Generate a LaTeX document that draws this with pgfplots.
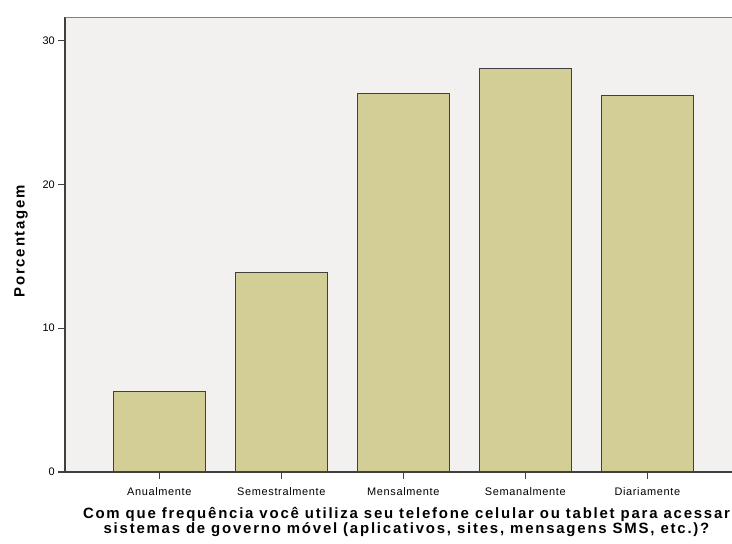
\documentclass[border=0pt]{standalone}
\usepackage{fontspec}
\setmainfont{Liberation Sans}
\newfontfamily\boldwide[LetterSpace=12]{Liberation Sans}
\newfontfamily\tickwide[LetterSpace=6]{Liberation Sans}
\usepackage{pgfplots}
\pgfplotsset{compat=1.18}
\definecolor{barfill}{RGB}{211,205,150}
\definecolor{plotbg}{RGB}{242,241,239}
\definecolor{axisdark}{RGB}{64,64,64}
\begin{document}
\begin{tikzpicture}[x=1bp,y=1bp]
\useasboundingbox (-65bp,-72bp) rectangle (667bp,472bp);
\begin{axis}[
    at={(0,0)}, anchor=south west,
    scale only axis,
    width=667bp, height=454.5bp,
    xmin=-0.773, xmax=4.694,
    ymin=0, ymax=31.6,
    axis x line=bottom, axis y line=left,
    axis line style={axisdark, line width=1.2bp, -},
    axis background/.style={fill=plotbg},
    tick align=outside,
    major tick length=7bp,
    tick style={axisdark, line width=1.2bp},
    xtick=data,
    xticklabels={Anualmente,Semestralmente,Mensalmente,Semanalmente,Diariamente},
    ytick={0,10,20,30},
    /pgf/number format/assume math mode=true,
    ticklabel style={font=\fontsize{11}{12}\selectfont, text=black},
    xticklabel style={inner sep=1bp, yshift=-7bp, font=\tickwide\fontsize{11}{12}\selectfont},
    yticklabel style={inner sep=1bp, xshift=-2bp},
    ylabel={Porcentagem},
    ylabel style={at={(axis description cs:-0.066,0.508)}, anchor=center, rotate=0,
        font=\boldwide\fontsize{15}{16}\selectfont\bfseries},
    xlabel={Com que frequência você utiliza seu telefone celular ou tablet para acessar\\sistemas de governo móvel (aplicativos, sites, mensagens SMS, etc.)?},
    xlabel style={at={(axis description cs:0.512,-0.1345)}, anchor=base, align=center,
        inner sep=0pt, font=\boldwide\fontsize{15}{14}\selectfont\bfseries},
    clip=false,
]
\addplot[ybar, bar width=92bp, fill=barfill, draw=axisdark, line width=1.2bp]
    coordinates {(0,5.58) (1,13.89) (2,26.33) (3,28.07) (4,26.2)};
\draw[gray, line width=1.5bp] (rel axis cs:0,1) -- (rel axis cs:1,1);
\end{axis}
\end{tikzpicture}
\end{document}
